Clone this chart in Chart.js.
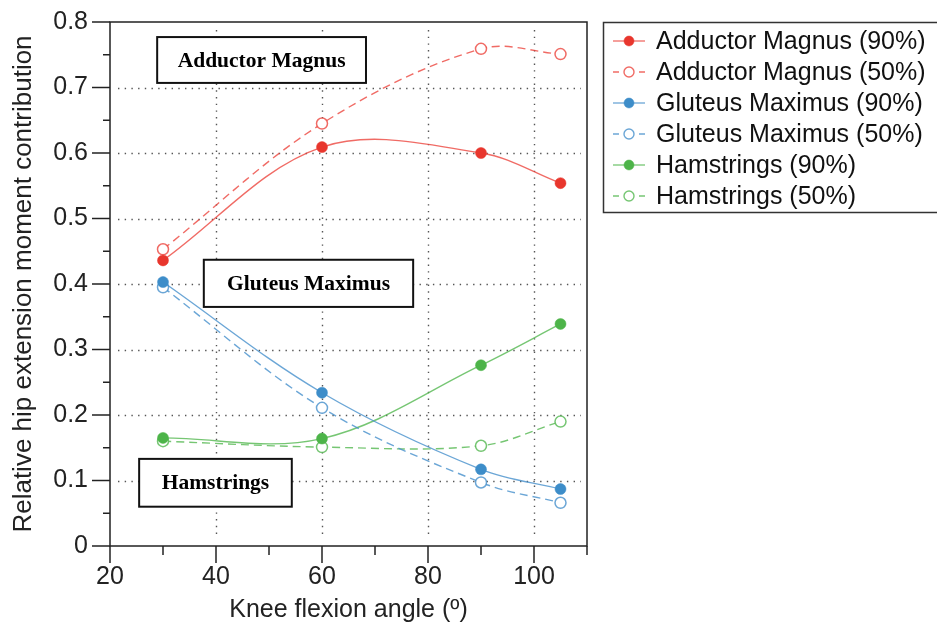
<!DOCTYPE html>
<html>
<head>
<meta charset="utf-8">
<script src="https://cdn.jsdelivr.net/npm/chart.js@4.4.1/dist/chart.umd.min.js"></script>
<style>
  html, body { margin: 0; padding: 0; background: #fff; }
  #wrap { width: 937px; height: 630px; position: relative; }
</style>
</head>
<body>
<div id="wrap"><canvas id="chart"></canvas></div>
<script>
// knee flexion angles (deg) where the moments were computed
const angles = [30, 60, 90, 105];

// relative hip extension moment contribution per muscle group
const adductor90 = [0.436, 0.609, 0.600, 0.554];
const adductor50 = [0.453, 0.645, 0.759, 0.751];
const gluteus90 = [0.403, 0.234, 0.117, 0.087];
const gluteus50 = [0.395, 0.211, 0.097, 0.066];
const hamstrings90 = [0.165, 0.164, 0.276, 0.339];
const hamstrings50 = [0.160, 0.151, 0.153, 0.190];

const seriesLabels = [
  'Adductor Magnus (90%)', 'Adductor Magnus (50%)',
  'Gluteus Maximus (90%)', 'Gluteus Maximus (50%)',
  'Hamstrings (90%)', 'Hamstrings (50%)'
];

// boxed captions, in axis units: [text, x from, x to, y from, y to]
const notes = [
  ['Adductor Magnus', 28.9, 68.3, 0.707, 0.777],
  ['Gluteus Maximus', 37.7, 77.2, 0.365, 0.437],
  ['Hamstrings', 25.5, 54.3, 0.060, 0.133]
];

// [marker colour, line colour]
const RED = ['#e8362d', 'rgba(236, 70, 62, 0.8)'];
const BLUE = ['#3d8dc9', 'rgba(70, 144, 204, 0.8)'];
const GREEN = ['#4db449', 'rgba(84, 184, 80, 0.8)'];
const FONT = '"Liberation Sans", Arial, Helvetica, sans-serif';

function makeSet(label, values, colors, open) {
  return {
    label: label,
    data: angles.map((a, i) => ({ x: a, y: values[i] })),
    borderColor: colors[1],
    backgroundColor: colors[0],
    borderWidth: 1.4,
    borderDash: open ? [8, 5] : [],
    tension: 0.35,
    fill: false,
    pointRadius: 5.5,
    pointBorderWidth: open ? 1.5 : 0.5,
    pointBorderColor: open ? colors[1] : colors[0],
    pointBackgroundColor: open ? '#fff' : colors[0]
  };
}

const isMajor = (t) => t.label !== '' && t.label !== undefined;

// dotted grid, frame, tick marks and the captions
const framePlugin = {
  id: 'frame',
  beforeDatasetsDraw(chart) {
    const { ctx, chartArea: a, scales: { x, y } } = chart;
    ctx.save();
    ctx.strokeStyle = '#555';
    ctx.lineWidth = 1.4;
    ctx.setLineDash([1.4, 5.3]);
    y.ticks.forEach(t => {
      if (!isMajor(t) || t.value <= 0 || t.value >= 0.79) return;
      const py = Math.round(y.getPixelForValue(t.value)) + 0.5;
      ctx.beginPath(); ctx.moveTo(a.left + 8, py); ctx.lineTo(a.right - 6, py); ctx.stroke();
    });
    x.ticks.forEach(t => {
      if (!isMajor(t) || t.value <= 20) return;
      const px = Math.round(x.getPixelForValue(t.value)) + 0.5;
      ctx.beginPath(); ctx.moveTo(px, a.top + 8); ctx.lineTo(px, a.bottom - 8); ctx.stroke();
    });
    ctx.setLineDash([]);

    // frame
    ctx.strokeStyle = '#222';
    ctx.lineWidth = 1.5;
    ctx.strokeRect(a.left, a.top, a.right - a.left, a.bottom - a.top);

    // tick marks
    y.ticks.forEach(t => {
      const py = y.getPixelForValue(t.value);
      const len = isMajor(t) ? 18 : 7;
      ctx.beginPath(); ctx.moveTo(a.left - len, py); ctx.lineTo(a.left, py); ctx.stroke();
    });
    x.ticks.forEach(t => {
      const px = x.getPixelForValue(t.value);
      const len = isMajor(t) ? 17 : 9;
      ctx.beginPath(); ctx.moveTo(px, a.bottom); ctx.lineTo(px, a.bottom + len); ctx.stroke();
    });

    // captions
    ctx.font = 'bold 21.5px "Liberation Serif", "Times New Roman", serif';
    ctx.textAlign = 'center';
    ctx.textBaseline = 'middle';
    notes.forEach(([text, x0, x1, y0, y1]) => {
      const l = x.getPixelForValue(x0), r = x.getPixelForValue(x1);
      const top = y.getPixelForValue(y1), bot = y.getPixelForValue(y0);
      ctx.fillStyle = '#fff';
      ctx.fillRect(l, top, r - l, bot - top);
      ctx.strokeStyle = '#111';
      ctx.lineWidth = 2;
      ctx.strokeRect(l, top, r - l, bot - top);
      ctx.fillStyle = '#000';
      ctx.fillText(text, (l + r) / 2, (top + bot) / 2 + 1);
    });
    ctx.restore();
  }
};

// boxed legend to the right of the plot
const legendPlugin = {
  id: 'boxLegend',
  afterDraw(chart) {
    const ctx = chart.ctx;
    const lx = 603, ly = 22, rowH = 31;
    ctx.save();
    ctx.strokeStyle = '#333';
    ctx.lineWidth = 1.5;
    ctx.strokeRect(lx + 0.5, ly + 0.5, 360, 190);
    ctx.font = '25px ' + FONT;
    ctx.textAlign = 'left';
    ctx.textBaseline = 'middle';
    chart.data.datasets.forEach((ds, i) => {
      const cy = ly + 19 + i * rowH;
      const open = ds.borderDash.length > 0;
      ctx.strokeStyle = ds.borderColor;
      ctx.lineWidth = 1.3;
      ctx.beginPath();
      if (open) {
        ctx.moveTo(613, cy); ctx.lineTo(619, cy);
        ctx.moveTo(639, cy); ctx.lineTo(645, cy);
      } else {
        ctx.moveTo(613, cy); ctx.lineTo(645, cy);
      }
      ctx.stroke();
      ctx.beginPath();
      ctx.arc(629, cy, 5, 0, Math.PI * 2);
      ctx.fillStyle = ds.pointBackgroundColor;
      ctx.fill();
      ctx.strokeStyle = ds.pointBorderColor;
      ctx.lineWidth = open ? 1.4 : 0.5;
      ctx.stroke();
      ctx.fillStyle = '#111';
      ctx.fillText(ds.label, 656, cy + 1);
    });
    ctx.restore();
  }
};

new Chart(document.getElementById('chart'), {
  type: 'line',
  data: {
    datasets: [
      makeSet(seriesLabels[0], adductor90, RED, false),
      makeSet(seriesLabels[1], adductor50, RED, true),
      makeSet(seriesLabels[2], gluteus90, BLUE, false),
      makeSet(seriesLabels[3], gluteus50, BLUE, true),
      makeSet(seriesLabels[4], hamstrings90, GREEN, false),
      makeSet(seriesLabels[5], hamstrings50, GREEN, true)
    ]
  },
  options: {
    responsive: true,
    maintainAspectRatio: false,
    animation: false,
    layout: { padding: { top: 22, right: 350, left: 0, bottom: 0 } },
    plugins: {
      legend: { display: false },
      tooltip: { enabled: false }
    },
    scales: {
      x: {
        type: 'linear',
        min: 20,
        max: 110,
        grid: { display: false, drawTicks: false },
        border: { display: false },
        afterFit: (s) => { s.height = 84; s.paddingLeft = 0; s.paddingRight = 0; },
        ticks: {
          stepSize: 10,
          padding: 16,
          maxRotation: 0,
          autoSkip: false,
          color: '#222',
          font: { family: FONT, size: 25 },
          callback: (v) => (v % 20 === 0 && v <= 100) ? String(v) : ''
        },
        title: {
          display: true,
          text: 'Knee flexion angle (º)',
          color: '#222',
          font: { family: FONT, size: 25 },
          padding: { top: 0, bottom: 5 }
        }
      },
      y: {
        min: 0,
        max: 0.8,
        grid: { display: false, drawTicks: false },
        border: { display: false },
        afterFit: (s) => { s.width = 110; s.paddingTop = 0; s.paddingBottom = 0; },
        ticks: {
          stepSize: 0.05,
          padding: 22,
          autoSkip: false,
          color: '#222',
          font: { family: FONT, size: 25 },
          callback: (v) => {
            const r = Math.round(v * 10);
            if (Math.abs(v * 10 - r) > 1e-6) return '';
            return r === 0 ? '0' : (r / 10).toFixed(1);
          }
        },
        title: {
          display: true,
          text: 'Relative hip extension moment contribution',
          color: '#222',
          font: { family: FONT, size: 26 },
          padding: { top: 8, bottom: 0 }
        }
      }
    }
  },
  plugins: [framePlugin, legendPlugin]
});
</script>
</body>
</html>
